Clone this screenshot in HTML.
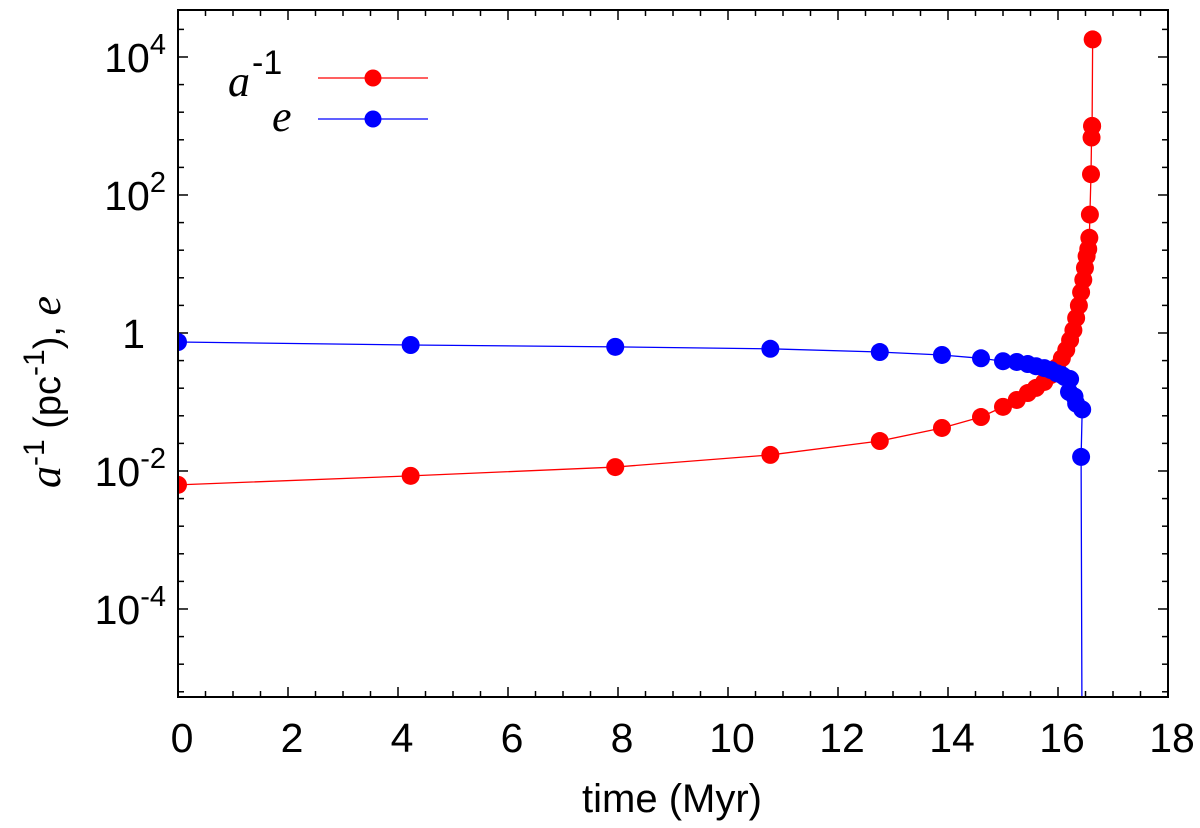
<!DOCTYPE html>
<html><head><meta charset="utf-8"><style>
html,body{margin:0;background:#fff;overflow:hidden;width:1200px;height:828px}
svg{display:block}
svg text{font-family:"Liberation Sans",sans-serif}
</style></head><body>
<svg id="chart" width="1200" height="828" xmlns="http://www.w3.org/2000/svg">
<g id="grid"></g>
<clipPath id="clip"><rect x="178" y="10" width="990" height="687"/></clipPath>
<g id="series" clip-path="url(#clip)"></g>
<rect x="178" y="10" width="990" height="687" fill="none" stroke="#000" stroke-width="2"/>
<g id="labels"></g>
<g>
<text x="228" y="96" font-size="44" font-style="italic" style="font-family:'Liberation Serif',serif">a</text>
<text x="252" y="74" font-size="34">-1</text>
<line x1="318" y1="78" x2="428" y2="78" stroke="#f00" stroke-width="1.3"/>
<circle cx="373" cy="78" r="8.5" fill="#f00"/>
<text x="272" y="131" font-size="44" font-style="italic" style="font-family:'Liberation Serif',serif">e</text>
<line x1="318" y1="119" x2="428" y2="119" stroke="#00f" stroke-width="1.3"/>
<circle cx="373" cy="119" r="8.5" fill="#00f"/>
</g>
<text x="672" y="812" font-size="40" text-anchor="middle">time (Myr)</text>
<text transform="translate(60,392) rotate(-90)" font-size="38" text-anchor="middle"><tspan font-style="italic" style="font-family:'Liberation Serif',serif" font-size="44">a</tspan><tspan dy="-16" font-size="30">-1</tspan><tspan dy="16"> (pc</tspan><tspan dy="-16" font-size="30">-1</tspan><tspan dy="16">), </tspan><tspan font-style="italic" style="font-family:'Liberation Serif',serif" font-size="44">e</tspan></text>
</svg>
<script>
const timesA=[0,4.23,7.95,10.77,12.76,13.89,14.6,15.0,15.25,15.45,15.6,15.75,15.87,15.98,16.07,16.15,16.22,16.28,16.33,16.38,16.42,16.46,16.49,16.52,16.55,16.57,16.58,16.6,16.61,16.62,16.62,16.63];
const invA=[0.0063,0.0085,0.0114,0.0171,0.0272,0.042,0.0606,0.085,0.107,0.135,0.16,0.195,0.246,0.32,0.43,0.57,0.79,1.1,1.65,2.5,3.9,5.9,8.8,13,16.5,24,52,200,680,1000,1000,18000];
const timesE=[0,4.23,7.95,10.77,12.76,13.89,14.6,15.0,15.25,15.45,15.6,15.75,15.87,15.98,16.07,16.12,16.22,16.2,16.3,16.33,16.44,16.42,16.45];
const eccE=[0.74,0.67,0.63,0.59,0.53,0.48,0.43,0.39,0.38,0.355,0.33,0.31,0.29,0.26,0.246,0.23,0.215,0.14,0.12,0.095,0.078,0.016,1e-9];
const xTicks=[0,2,4,6,8,10,12,14,16,18];
const yTickExps=[-4,-2,0,2,4];
const NS="http://www.w3.org/2000/svg";
const X=t=>178+t*55;
const Y=v=>333-Math.log10(v)*69;
function mk(tag,attrs,parent){const e=document.createElementNS(NS,tag);for(const k in attrs)e.setAttribute(k,attrs[k]);parent.appendChild(e);return e;}
const grid=document.getElementById('grid'),ser=document.getElementById('series'),lab=document.getElementById('labels');
for(let t=0;t<=18.001;t+=0.5){const major=Math.abs(t-Math.round(t/2)*2)<1e-6;const L=major?10:6;
 const a=mk('line',{x1:X(t),x2:X(t),y1:697,y2:697-L,stroke:'#000','stroke-width':1.5},grid);
 
 
 const b=mk('line',{x1:X(t),x2:X(t),y1:10,y2:10+L,stroke:'#000','stroke-width':1.5},grid);
 
 }
xTicks.forEach(t=>{const e=mk('text',{x:X(t)+4,y:752,'font-size':41,'text-anchor':'middle'},lab);e.textContent=t;
 
 });
for(let p=-5.2;p<=4.7;p+=0.4){const ex=Math.round(p*10)/10;const major=Math.abs(ex/2-Math.round(ex/2))<1e-6;const L=major?10:6;const y=Y(Math.pow(10,ex+0.0001));
 if(y<10||y>697)continue;
 const a=mk('line',{x1:178,x2:178+L,y1:y,y2:y,stroke:'#000','stroke-width':1.5},grid);
 
 
 const b=mk('line',{x1:1168,x2:1168-L,y1:y,y2:y,stroke:'#000','stroke-width':1.5},grid);
 
 }
yTickExps.forEach(p=>{const y=Y(Math.pow(10,p));let e;
 if(p===0){e=mk('text',{x:145,y:y+15,'font-size':41,'text-anchor':'end'},lab);e.textContent='1';}
 else{e=mk('text',{x:166,y:y+15,'font-size':41,'text-anchor':'end'},lab);
  const s1=mk('tspan',{},e);s1.textContent='10';const s2=mk('tspan',{dy:-18,'font-size':29},e);s2.textContent=String(p);}
 
 });
function series(ts,vs,color,name){
 const pts=ts.map((t,i)=>X(t)+','+Y(vs[i])).join(' ');
 const pl=mk('polyline',{points:pts,fill:'none',stroke:color,'stroke-width':1.3},ser);
 
 
 ts.forEach((t,i)=>{const c=mk('circle',{cx:X(t),cy:Y(vs[i]),r:9,fill:color},ser);
  
  });
}
series(timesA,invA,'#f00','inverse-a');
series(timesE,eccE,'#00f','eccentricity');
</script>
</body></html>
